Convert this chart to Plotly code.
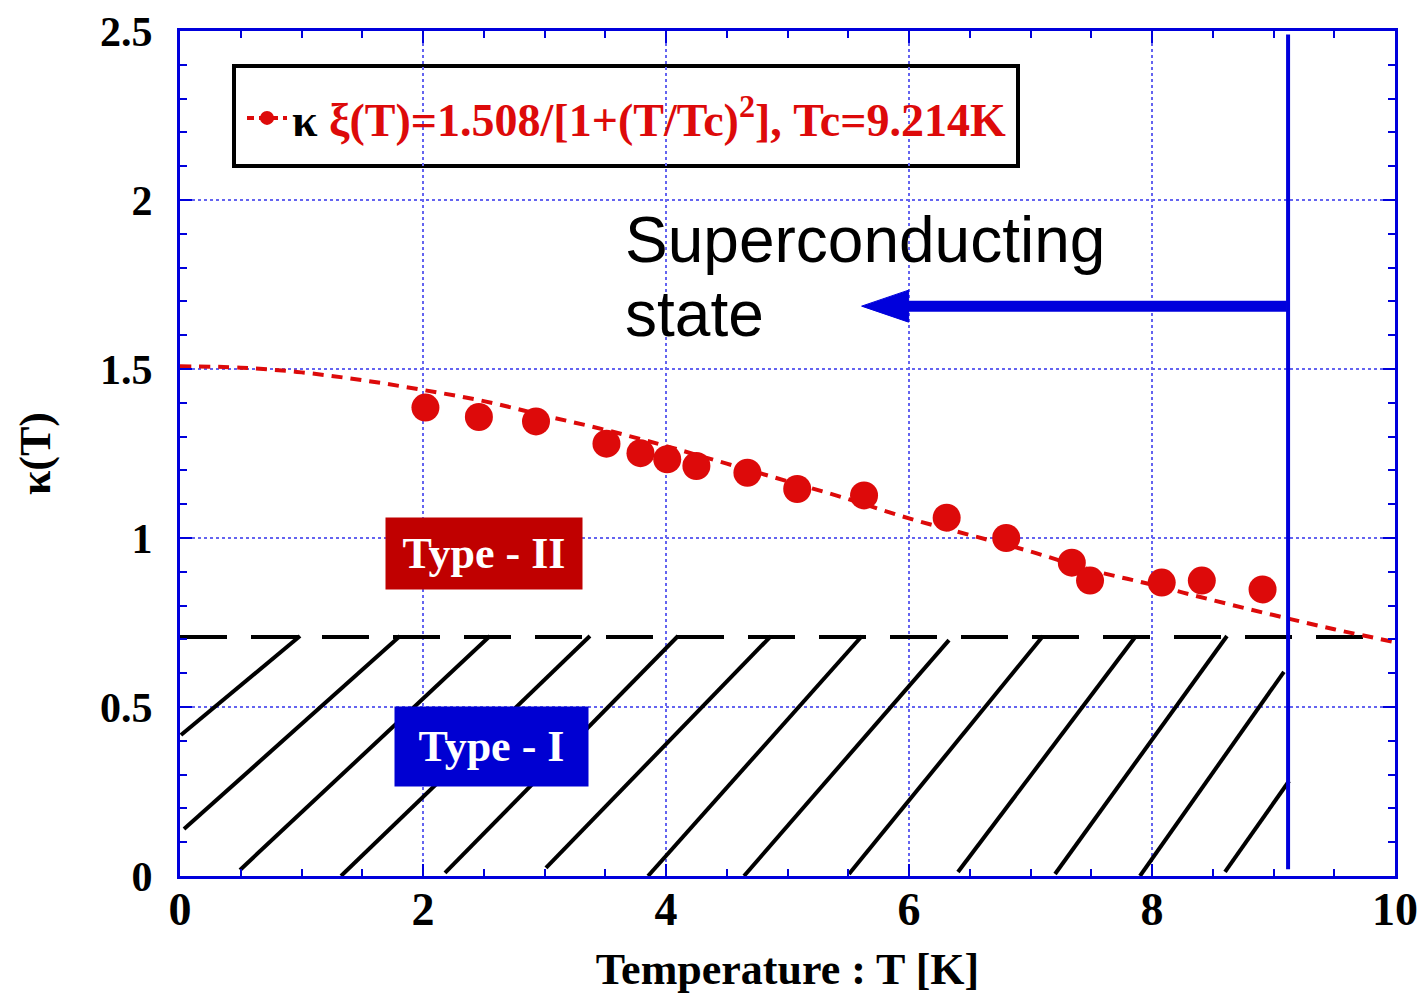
import plotly.graph_objects as go

# ---------------- data ----------------
# measured points  (T [K], kappa)
T_data = [2.02, 2.46, 2.93, 3.51, 3.79, 4.01, 4.25, 4.67, 5.08, 5.63,
          6.31, 6.80, 7.34, 7.49, 8.08, 8.41, 8.91]
kappa_data = [1.386, 1.358, 1.345, 1.279, 1.251, 1.233, 1.213, 1.193, 1.145, 1.126,
              1.060, 1.000, 0.927, 0.874, 0.868, 0.874, 0.848]

# fitted curve
T_fit = [0.0, 0.5, 1.0, 1.5, 2.0, 2.5, 3.0, 3.5, 4.0, 4.5, 5.0,
         5.5, 6.0, 6.5, 7.0, 7.5, 8.0, 8.5, 9.0, 9.5, 10.0]
kappa_fit = [1.508, 1.504, 1.490, 1.467, 1.438, 1.405, 1.362, 1.320, 1.272, 1.220, 1.168,
             1.115, 1.058, 1.009, 0.960, 0.905, 0.862, 0.816, 0.772, 0.730, 0.692]

# Type I / Type II boundary (kappa = 1/sqrt(2))
kappa_crit = 0.707
crit_T = [0.0, 9.85]

# Tc marker line and arrow
tc_T = 9.12
tc_kappa = [0.02, 2.49]
arrow_T = [9.11, 5.61]          # start, tip
arrow_kappa = 1.686

# hatch segments of the Type-I region (start T, start kappa, end T, end kappa)
hatch_T0 = [0.008, 0.033, 0.494, 1.325, 2.181, 3.012, 3.852, 4.642, 5.506, 6.403, 7.202, 7.901, 8.601]
hatch_k0 = [0.417, 0.139, 0.018, 0.000, 0.009, 0.024, 0.000, 0.000, 0.006, 0.012, 0.006, 0.000, 0.012]
hatch_T1 = [0.988, 1.811, 2.551, 3.374, 4.099, 4.864, 5.613, 6.329, 7.103, 7.868, 8.617, 9.086, 9.128]
hatch_k1 = [0.710, 0.710, 0.710, 0.710, 0.710, 0.710, 0.710, 0.698, 0.710, 0.710, 0.710, 0.604, 0.281]

x_ticks = [0, 2, 4, 6, 8, 10]
y_ticks = [0, 0.5, 1, 1.5, 2, 2.5]

legend_label = ('<span style="color:black">κ</span> ξ(T)=1.508/[1+(T/Tc)<sup>2</sup>], Tc=9.214K')
type2_label = 'Type - II'
type1_label = 'Type - I'
state_line1 = 'Superconducting'
state_line2 = 'state'

# ---------------- styling ----------------
RED = 'rgb(221,10,10)'
BLUE = 'rgb(0,0,220)'
GRID = 'rgb(100,100,240)'
SERIF = 'Liberation Serif, Times New Roman, serif'
SANS = 'Liberation Sans, Arial, sans-serif'

W, H = 1418, 994
ML, MR, MT, MB = 180, 23, 31, 118
X_RANGE = [0, 10]
Y_RANGE = [0, 2.5]
px_per_T = (W - ML - MR) / (X_RANGE[1] - X_RANGE[0])
px_per_k = (H - MT - MB) / (Y_RANGE[1] - Y_RANGE[0])

fig = go.Figure()

# hatch lines
hx, hy = [], []
for a, b, c, d in zip(hatch_T0, hatch_k0, hatch_T1, hatch_k1):
    hx += [a, c, None]
    hy += [b, d, None]
fig.add_trace(go.Scatter(x=hx, y=hy, mode='lines', line=dict(color='black', width=4),
                         showlegend=False, hoverinfo='skip'))

# dashed boundary
fig.add_trace(go.Scatter(x=crit_T, y=[kappa_crit] * len(crit_T), mode='lines',
                         line=dict(color='black', width=4, dash='47px,24px'),
                         showlegend=False, hoverinfo='skip'))

# fit curve
fig.add_trace(go.Scatter(x=T_fit, y=kappa_fit, mode='lines', line_shape='spline',
                         line=dict(color=RED, width=4, dash='11px,8px'),
                         showlegend=False))

# data points
fig.add_trace(go.Scatter(x=T_data, y=kappa_data, mode='markers',
                         marker=dict(color=RED, size=28, line=dict(width=0)),
                         showlegend=False))

# legend-only entry
fig.add_trace(go.Scatter(x=[None], y=[None], mode='lines+markers', name=legend_label,
                         line=dict(color=RED, width=4, dash='7px,5px'),
                         marker=dict(color=RED, size=14)))

# Tc vertical line
fig.add_trace(go.Scatter(x=[tc_T, tc_T], y=tc_kappa, mode='lines',
                         line=dict(color=BLUE, width=4), showlegend=False, hoverinfo='skip'))

# arrow: shaft + head
head_len = 47 / px_per_T
head_half = 16 / px_per_k
fig.add_trace(go.Scatter(x=[arrow_T[0], arrow_T[1] + head_len * 0.9], y=[arrow_kappa, arrow_kappa],
                         mode='lines', line=dict(color=BLUE, width=11),
                         showlegend=False, hoverinfo='skip'))
fig.add_trace(go.Scatter(x=[arrow_T[1], arrow_T[1] + head_len, arrow_T[1] + head_len, arrow_T[1]],
                         y=[arrow_kappa, arrow_kappa + head_half, arrow_kappa - head_half, arrow_kappa],
                         mode='lines', fill='toself', fillcolor=BLUE, line=dict(color=BLUE, width=1),
                         showlegend=False, hoverinfo='skip'))

def px2paper_x(p):
    return (p - ML) / (W - ML - MR)

def px2paper_y(p):
    return (H - MB - p) / (H - MT - MB)

shapes = [
    # white box behind the "Superconducting" text
    dict(type='rect', xref='paper', yref='paper', layer='between',
         x0=px2paper_x(600), x1=px2paper_x(1265), y0=px2paper_y(288), y1=px2paper_y(187),
         fillcolor='white', line=dict(width=0)),
    # legend frame
    dict(type='rect', xref='paper', yref='paper', layer='between',
         x0=px2paper_x(234), x1=px2paper_x(1018), y0=px2paper_y(166), y1=px2paper_y(66),
         fillcolor='white', line=dict(color='black', width=4)),
]

annotations = [
    dict(x=(623 - ML) / px_per_T, y=(H - MB - 240) / px_per_k, xref='x', yref='y',
         text=state_line1, showarrow=False, xanchor='left', yanchor='middle',
         font=dict(family=SANS, size=64, color='black')),
    dict(x=(623 - ML) / px_per_T, y=(H - MB - 314) / px_per_k, xref='x', yref='y',
         text=state_line2, showarrow=False, xanchor='left', yanchor='middle',
         font=dict(family=SANS, size=64, color='black')),
    dict(x=2.502, y=0.954, xref='x', yref='y', text=type2_label, showarrow=False,
         bgcolor='rgb(192,0,0)', width=180, height=55, borderpad=8,
         font=dict(family=SERIF, size=44, color='white', weight='bold')),
    dict(x=2.564, y=0.383, xref='x', yref='y', text=type1_label, showarrow=False,
         bgcolor='rgb(0,0,210)', width=177, height=63, borderpad=8,
         font=dict(family=SERIF, size=44, color='white', weight='bold')),
]

axis_common = dict(showline=True, linecolor=BLUE, linewidth=3, mirror='allticks',
                   ticks='inside', ticklen=12, tickwidth=2, tickcolor=BLUE,
                   showgrid=True, gridcolor=GRID, gridwidth=2, griddash='dot',
                   zeroline=False, automargin=False)

fig.update_layout(
    width=W, height=H,
    margin=dict(l=ML, r=MR, t=MT, b=MB, autoexpand=False),
    plot_bgcolor='white', paper_bgcolor='white',
    showlegend=True,
    legend=dict(x=px2paper_x(242), y=px2paper_y(118), xanchor='left', yanchor='middle',
                bgcolor='rgba(0,0,0,0)', borderwidth=0, itemwidth=40,
                font=dict(family=SERIF, size=46, color=RED, weight='bold')),
    shapes=shapes,
    annotations=annotations,
    xaxis=dict(range=X_RANGE, tickvals=x_ticks, ticktext=[str(v) for v in x_ticks],
               minor=dict(dtick=0.5, ticks='inside', ticklen=7, tickwidth=2, tickcolor=BLUE, showgrid=False),
               ticklabelstandoff=-9,
               tickfont=dict(family=SERIF, size=46, color='black', weight='bold'),
               title=dict(text='Temperature : T [K]', standoff=24,
                          font=dict(family=SERIF, size=44, color='black', weight='bold')),
               **axis_common),
    yaxis=dict(range=Y_RANGE, tickvals=y_ticks, ticktext=[('%g' % v) for v in y_ticks],
               minor=dict(dtick=0.1, ticks='inside', ticklen=7, tickwidth=2, tickcolor=BLUE, showgrid=False),
               ticklabelstandoff=16,
               tickfont=dict(family=SERIF, size=42, color='black', weight='bold'),
               title=dict(text='κ(T)', standoff=36,
                          font=dict(family=SERIF, size=44, color='black', weight='bold')),
               **axis_common),
)

fig.write_html('out.html', config={'displayModeBar': False},
               post_script="document.body.style.margin='0';")
